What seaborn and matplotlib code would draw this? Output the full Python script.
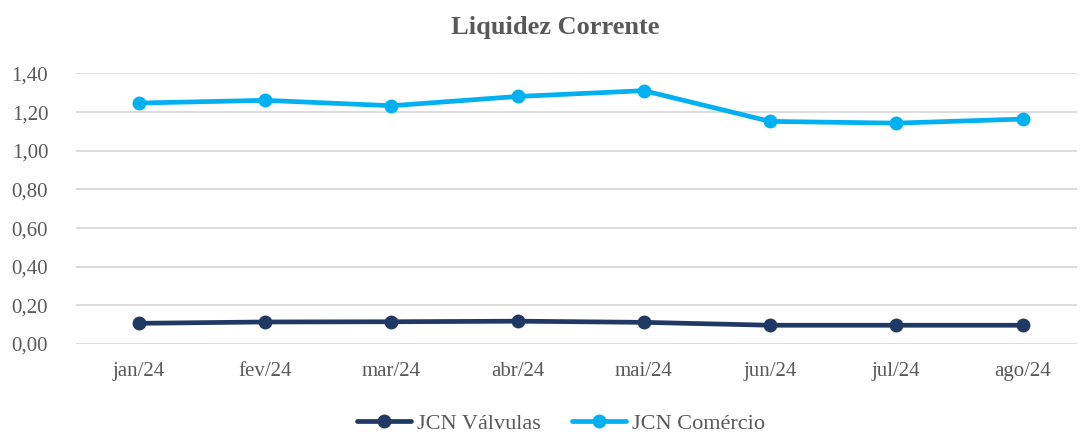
import numpy as np
import pandas as pd
import matplotlib
matplotlib.use("Agg")
import matplotlib.pyplot as plt
import seaborn as sns
from matplotlib.ticker import FuncFormatter, MultipleLocator

# data
meses = ["jan/24", "fev/24", "mar/24", "abr/24", "mai/24", "jun/24", "jul/24", "ago/24"]
valvulas = [0.107, 0.114, 0.115, 0.118, 0.112, 0.097, 0.097, 0.097]
comercio = [1.247, 1.261, 1.233, 1.281, 1.311, 1.152, 1.143, 1.164]
series = ["JCN Válvulas", "JCN Comércio"]

df = pd.DataFrame({
    "mes": meses * 2,
    "valor": valvulas + comercio,
    "serie": [series[0]] * len(meses) + [series[1]] * len(meses),
})

sns.set_style("white")
plt.rcParams["font.family"] = ["Liberation Serif", "DejaVu Serif"]

text_color = "#595959"
palette = {"JCN Válvulas": "#203864", "JCN Comércio": "#00B0F0"}

fig = plt.figure(figsize=(10.82, 4.34), dpi=100)
ax = fig.add_axes([0.0702, 0.2074, 0.925, 0.6233])

sns.lineplot(
    data=df, x="mes", y="valor", hue="serie",
    hue_order=series, palette=palette, sort=False,
    marker="o", markersize=10, markeredgewidth=0,
    linewidth=3.4, ax=ax,
)

ax.set_ylim(0, 1.4)
ax.set_xlim(-0.5, 7.43)
ax.yaxis.set_major_locator(MultipleLocator(0.2))
ax.yaxis.set_major_formatter(FuncFormatter(lambda v, p: f"{v:.2f}".replace(".", ",")))
ax.grid(True, axis="y", color="#d9d9d9", linewidth=1.3)
ax.set_axisbelow(True)
for s in ax.spines.values():
    s.set_visible(False)

ax.tick_params(axis="both", length=0, labelsize=15, colors=text_color)
ax.tick_params(axis="y", pad=20)
ax.tick_params(axis="x", pad=13)
ax.set_xlabel("")
ax.set_ylabel("")

fig.suptitle("Liquidez Corrente", x=0.513, y=0.962, fontsize=19,
             fontweight="bold", color=text_color)

handles, labels = ax.get_legend_handles_labels()
ax.legend(handles, labels, loc="lower center", bbox_to_anchor=(0.485, -0.405),
          ncol=2, frameon=False, fontsize=16, labelcolor=text_color,
          handlelength=2.4, columnspacing=1.4, handletextpad=0.3)

fig.savefig("out.png", dpi=100)
